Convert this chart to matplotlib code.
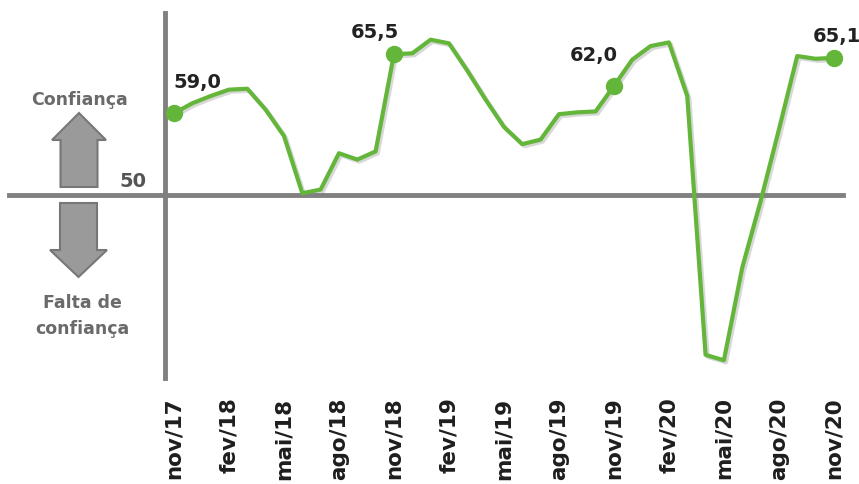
import matplotlib
matplotlib.use("Agg")
import matplotlib.pyplot as plt
import matplotlib.patheffects as pe
from matplotlib.patches import FancyArrow

# monthly index, nov/17 .. nov/20
months = ["nov/17", "dez/17", "jan/18", "fev/18", "mar/18", "abr/18", "mai/18",
          "jun/18", "jul/18", "ago/18", "set/18", "out/18", "nov/18", "dez/18",
          "jan/19", "fev/19", "mar/19", "abr/19", "mai/19", "jun/19", "jul/19",
          "ago/19", "set/19", "out/19", "nov/19", "dez/19", "jan/20", "fev/20",
          "mar/20", "abr/20", "mai/20", "jun/20", "jul/20", "ago/20", "set/20",
          "out/20", "nov/20"]
values = [59.0, 60.1, 60.9, 61.6, 61.7, 59.4, 56.5, 50.2, 50.6, 54.6, 53.9, 54.8,
          65.5, 65.6, 67.1, 66.7, 63.7, 60.5, 57.5, 55.6, 56.1, 58.9, 59.1, 59.2,
          62.0, 64.9, 66.4, 66.8, 60.9, 32.4, 31.8, 42.0, 49.3, 57.2, 65.3, 65.0,
          65.1]
highlight = [0, 12, 24, 36]
labels = ["59,0", "65,5", "62,0", "65,1"]
label_offsets = [(-1, 25, "left"), (5, 16, "right"), (4, 25, "right"), (-21, 16, "left")]

W, H = 859, 484
green = "#64b63a"
gray = "#808080"

fig = plt.figure(figsize=(W / 100, H / 100), dpi=100)
# axes area in pixels: left 165, right 859, top 13, bottom 378
ax = fig.add_axes([165 / W, 1 - 378 / H, 1 - 165 / W, (378 - 13) / H])
ax.set_xlim(-0.49, 37.37)
ax.set_ylim(29.85, 70.04)
for s in ["top", "right", "bottom"]:
    ax.spines[s].set_visible(False)
ax.spines["left"].set_color(gray)
ax.spines["left"].set_linewidth(3.5)
ax.set_yticks([])

x = list(range(len(months)))
ax.set_xticks(x[::3])
ax.set_xticklabels(months[::3], rotation=90, fontsize=15.5, fontweight="bold",
                   color="#1e1e1e", family="DejaVu Sans")
ax.tick_params(axis="x", length=0, pad=14)

# 50 reference line, reaches out past the left axis
ax.plot([-9.0, 36.5], [50, 50], color=gray, lw=3.5, clip_on=False, zorder=1)

ax.plot(x, values, color=green, lw=3, zorder=3, clip_on=False,
        path_effects=[pe.SimpleLineShadow(offset=(1.5, -1.5), shadow_color="gray", alpha=0.3),
                      pe.Normal()])
hx = [x[i] for i in highlight]
hy = [values[i] for i in highlight]
ax.plot(hx, hy, "o", color=green, ms=11.5, zorder=4, clip_on=False)
for xi, yi, lab, (dx, dy, ha) in zip(hx, hy, labels, label_offsets):
    ax.annotate(lab, (xi, yi), xytext=(dx, dy), textcoords="offset pixels",
                ha=ha, va="baseline", fontsize=14, fontweight="bold",
                color="#222222", family="DejaVu Sans", annotation_clip=False)

# left side legend with arrows
def px(xp, yp):
    return xp / W, 1 - yp / H

fig.text(*px(146, 187), "50", ha="right", va="baseline", fontsize=14,
         fontweight="bold", color="#555555")
fig.text(*px(79, 105), "Confiança", ha="center", va="baseline", fontsize=12.5,
         fontweight="bold", color="#6a6a6a")
fig.text(*px(82, 308), "Falta de", ha="center", va="baseline", fontsize=12.5,
         fontweight="bold", color="#6a6a6a")
fig.text(*px(82, 334), "confiança", ha="center", va="baseline", fontsize=12.5,
         fontweight="bold", color="#6a6a6a")

up = FancyArrow(0.79, (H - 187) / 100, 0, 0.74, width=0.37, head_width=0.54,
                head_length=0.27, length_includes_head=True,
                transform=fig.dpi_scale_trans, facecolor="#9a9a9a",
                edgecolor="#777777", lw=1.5)
down = FancyArrow(0.785, (H - 203) / 100, 0, -0.74, width=0.37, head_width=0.57,
                  head_length=0.27, length_includes_head=True,
                  transform=fig.dpi_scale_trans, facecolor="#9a9a9a",
                  edgecolor="#777777", lw=1.5)
fig.add_artist(up)
fig.add_artist(down)

fig.savefig("out.png", dpi=100)
